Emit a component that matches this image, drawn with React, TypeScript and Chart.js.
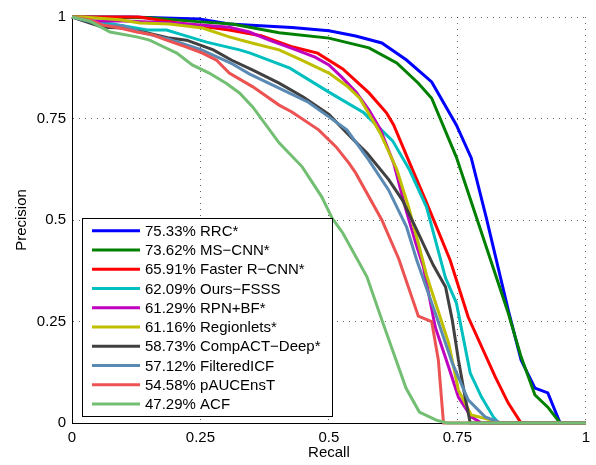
import React, { useEffect, useRef } from 'react';
import { Chart, registerables } from 'chart.js';

Chart.register(...registerables);

const SERIES_LABELS = [
  '75.33% RRC*',
  '73.62% MS−CNN*',
  '65.91% Faster R−CNN*',
  '62.09% Ours−FSSS',
  '61.29% RPN+BF*',
  '61.16% Regionlets*',
  '58.73% CompACT−Deep*',
  '57.12% FilteredICF',
  '54.58% pAUCEnsT',
  '47.29% ACF',
];

const SERIES_COLORS = [
  '#0000ff',
  '#008000',
  '#ff0000',
  '#00bfbf',
  '#bf00bf',
  '#bfbf00',
  '#404040',
  '#5a8ab4',
  '#ec5252',
  '#72be72',
];

const RRC_RECALL = [0, 0.112, 0.248, 0.306, 0.428, 0.5, 0.552, 0.603, 0.651, 0.7, 0.748, 0.777, 0.806, 0.849, 0.874, 0.901, 0.926, 0.95, 1];
const RRC_PRECISION = [1, 1, 0.995, 0.983, 0.974, 0.966, 0.953, 0.936, 0.894, 0.84, 0.734, 0.653, 0.507, 0.278, 0.155, 0.086, 0.074, 0, 0];

const MSCNN_RECALL = [0, 0.15, 0.25, 0.312, 0.403, 0.5, 0.578, 0.632, 0.674, 0.7, 0.748, 0.787, 0.849, 0.874, 0.901, 0.926, 0.95, 1];
const MSCNN_PRECISION = [1, 0.998, 0.988, 0.983, 0.961, 0.948, 0.924, 0.887, 0.837, 0.8, 0.655, 0.507, 0.271, 0.163, 0.069, 0.039, 0, 0];

const FRCNN_RECALL = [0, 0.13, 0.236, 0.306, 0.368, 0.43, 0.478, 0.527, 0.578, 0.612, 0.626, 0.655, 0.688, 0.736, 0.771, 0.824, 0.849, 0.874, 1];
const FRCNN_PRECISION = [1, 1, 0.98, 0.968, 0.954, 0.926, 0.911, 0.872, 0.813, 0.764, 0.734, 0.647, 0.549, 0.401, 0.261, 0.113, 0.049, 0, 0];

const FSSS_RECALL = [0, 0.093, 0.147, 0.184, 0.215, 0.262, 0.326, 0.347, 0.424, 0.5, 0.568, 0.624, 0.657, 0.69, 0.727, 0.748, 0.775, 0.797, 0.82, 0.83, 1];
const FSSS_PRECISION = [1, 0.98, 0.968, 0.968, 0.956, 0.938, 0.919, 0.911, 0.874, 0.815, 0.764, 0.695, 0.623, 0.532, 0.357, 0.296, 0.123, 0.064, 0.015, 0, 0];

const RPNBF_RECALL = [0, 0.04, 0.1, 0.2, 0.306, 0.345, 0.384, 0.436, 0.473, 0.5, 0.525, 0.553, 0.578, 0.6, 0.626, 0.65, 0.669, 0.684, 0.707, 0.733, 0.752, 0.777, 0.797, 1];
const RPNBF_PRECISION = [1, 0.99, 0.99, 0.985, 0.975, 0.963, 0.943, 0.919, 0.901, 0.882, 0.852, 0.815, 0.771, 0.724, 0.64, 0.525, 0.443, 0.384, 0.236, 0.138, 0.064, 0.015, 0, 0];

const REGIONLETS_RECALL = [0, 0.021, 0.093, 0.132, 0.19, 0.254, 0.306, 0.35, 0.403, 0.447, 0.5, 0.535, 0.56, 0.6, 0.632, 0.655, 0.674, 0.69, 0.733, 0.752, 0.777, 0.816, 0.826, 1];
const REGIONLETS_PRECISION = [1, 1, 0.993, 0.985, 0.983, 0.973, 0.951, 0.936, 0.919, 0.894, 0.862, 0.83, 0.8, 0.714, 0.625, 0.532, 0.443, 0.364, 0.197, 0.081, 0.02, 0.007, 0, 0];

const COMPACT_RECALL = [0, 0.035, 0.06, 0.1, 0.145, 0.19, 0.223, 0.275, 0.31, 0.352, 0.403, 0.45, 0.5, 0.55, 0.574, 0.616, 0.643, 0.67, 0.703, 0.727, 0.74, 0.752, 0.765, 0.775, 1];
const COMPACT_PRECISION = [1, 0.985, 0.975, 0.973, 0.961, 0.948, 0.943, 0.919, 0.894, 0.869, 0.837, 0.803, 0.76, 0.695, 0.665, 0.6, 0.549, 0.478, 0.389, 0.335, 0.254, 0.156, 0.064, 0, 0];

const FICF_RECALL = [0, 0.06, 0.1, 0.132, 0.19, 0.25, 0.31, 0.345, 0.403, 0.46, 0.5, 0.535, 0.578, 0.616, 0.651, 0.671, 0.711, 0.74, 0.771, 0.804, 0.835, 1];
const FICF_PRECISION = [1, 0.98, 0.978, 0.963, 0.945, 0.92, 0.886, 0.86, 0.825, 0.79, 0.754, 0.722, 0.647, 0.574, 0.483, 0.401, 0.256, 0.148, 0.057, 0.015, 0, 0];

const PAUC_RECALL = [0, 0.035, 0.06, 0.093, 0.126, 0.157, 0.184, 0.223, 0.254, 0.281, 0.306, 0.352, 0.403, 0.428, 0.48, 0.514, 0.539, 0.552, 0.603, 0.636, 0.674, 0.7, 0.713, 0.723, 1];
const PAUC_PRECISION = [1, 0.993, 0.98, 0.973, 0.963, 0.956, 0.943, 0.926, 0.911, 0.894, 0.862, 0.828, 0.783, 0.766, 0.722, 0.68, 0.64, 0.616, 0.5, 0.404, 0.263, 0.25, 0.155, 0, 0];

const ACF_RECALL = [0, 0.035, 0.074, 0.126, 0.151, 0.184, 0.204, 0.234, 0.267, 0.3, 0.326, 0.352, 0.403, 0.448, 0.486, 0.506, 0.527, 0.574, 0.603, 0.65, 0.676, 0.709, 0.73, 1];
const ACF_PRECISION = [1, 0.99, 0.963, 0.951, 0.943, 0.923, 0.911, 0.882, 0.862, 0.837, 0.813, 0.778, 0.69, 0.631, 0.557, 0.505, 0.468, 0.36, 0.254, 0.086, 0.027, 0.007, 0, 0];

const SERIES_RECALL = [RRC_RECALL, MSCNN_RECALL, FRCNN_RECALL, FSSS_RECALL, RPNBF_RECALL, REGIONLETS_RECALL, COMPACT_RECALL, FICF_RECALL, PAUC_RECALL, ACF_RECALL];
const SERIES_PRECISION = [RRC_PRECISION, MSCNN_PRECISION, FRCNN_PRECISION, FSSS_PRECISION, RPNBF_PRECISION, REGIONLETS_PRECISION, COMPACT_PRECISION, FICF_PRECISION, PAUC_PRECISION, ACF_PRECISION];

const TICK_VALUES = [0, 0.25, 0.5, 0.75, 1];
const TICK_LABELS = ['0', '0.25', '0.5', '0.75', '1'];

const X_TITLE = 'Recall';
const Y_TITLE = 'Precision';

const FONT_FAMILY = '"Liberation Sans", Arial, Helvetica, sans-serif';

const legendPlugin = {
  id: 'boxLegend',
  afterDraw(chart: any) {
    const ctx = chart.ctx;
    const left = 82;
    const top = 218;
    const w = 250;
    const h = 198;
    ctx.save();
    ctx.fillStyle = '#ffffff';
    ctx.fillRect(left, top, w, h);
    ctx.strokeStyle = '#000000';
    ctx.lineWidth = 1;
    ctx.strokeRect(left + 0.5, top + 0.5, w, h);
    ctx.font = `15px ${FONT_FAMILY}`;
    ctx.textBaseline = 'middle';
    ctx.textAlign = 'left';
    SERIES_LABELS.forEach((label, i) => {
      const y = 230.7 + i * 19.26;
      ctx.strokeStyle = SERIES_COLORS[i];
      ctx.lineWidth = 3;
      ctx.beginPath();
      ctx.moveTo(92, y);
      ctx.lineTo(140, y);
      ctx.stroke();
      ctx.fillStyle = '#000000';
      ctx.fillText(label, 145, y + 1);
    });
    ctx.restore();
  },
};

const tickCallback = (value: any) => {
  const idx = TICK_VALUES.findIndex((t) => Math.abs(t - Number(value)) < 1e-9);
  return idx >= 0 ? TICK_LABELS[idx] : '';
};

export default function App() {
  const canvasRef = useRef<HTMLCanvasElement | null>(null);

  useEffect(() => {
    if (!canvasRef.current) return;
    const datasets = SERIES_LABELS.map((label, i) => ({
      label,
      data: SERIES_RECALL[i].map((r, j) => ({ x: r, y: SERIES_PRECISION[i][j] })),
      borderColor: SERIES_COLORS[i],
      backgroundColor: SERIES_COLORS[i],
      borderWidth: 3,
      pointRadius: 0,
      tension: 0,
      fill: false,
      clip: false,
      order: SERIES_LABELS.length - 1 - i,
    }));

    const gridStyle = {
      color: 'rgba(0,0,0,0.6)',
      lineWidth: 1,
      drawTicks: false,
    };
    const borderStyle = { display: true, color: '#000000', width: 1, dash: [1, 5] };

    const chart = new Chart(canvasRef.current, {
      type: 'line',
      data: { datasets },
      plugins: [legendPlugin],
      options: {
        animation: false,
        responsive: false,
        events: [],
        layout: { padding: { top: 17, right: 8, left: 0, bottom: 0 } },
        plugins: {
          legend: { display: false },
          tooltip: { enabled: false },
        },
        scales: {
          x: {
            type: 'linear',
            min: 0,
            max: 1,
            afterBuildTicks: (scale: any) => {
              scale.ticks = TICK_VALUES.map((v) => ({ value: v }));
            },
            afterFit: (scale: any) => {
              scale.height = 42;
            },
            grid: gridStyle,
            border: borderStyle,
            ticks: {
              callback: tickCallback,
              color: '#000000',
              padding: 6,
              maxRotation: 0,
              font: { family: FONT_FAMILY, size: 15 },
            },
            title: {
              display: true,
              text: X_TITLE,
              color: '#000000',
              font: { family: FONT_FAMILY, size: 15 },
              padding: { top: 0, bottom: 3 },
            },
          },
          y: {
            type: 'linear',
            min: 0,
            max: 1,
            afterBuildTicks: (scale: any) => {
              scale.ticks = TICK_VALUES.map((v) => ({ value: v }));
            },
            afterFit: (scale: any) => {
              scale.width = 72;
            },
            grid: gridStyle,
            border: borderStyle,
            ticks: {
              callback: tickCallback,
              color: '#000000',
              padding: 6,
              font: { family: FONT_FAMILY, size: 15 },
            },
            title: {
              display: true,
              text: Y_TITLE,
              color: '#000000',
              font: { family: FONT_FAMILY, size: 15 },
              padding: { top: 13, bottom: 0 },
            },
          },
        },
      },
    } as any);

    return () => {
      chart.destroy();
    };
  }, []);

  return (
    <div style={{ position: 'fixed', left: 0, top: 0, width: 596, height: 465, background: '#ffffff' }}>
      <canvas ref={canvasRef} width={596} height={465} style={{ display: 'block' }} />
    </div>
  );
}
